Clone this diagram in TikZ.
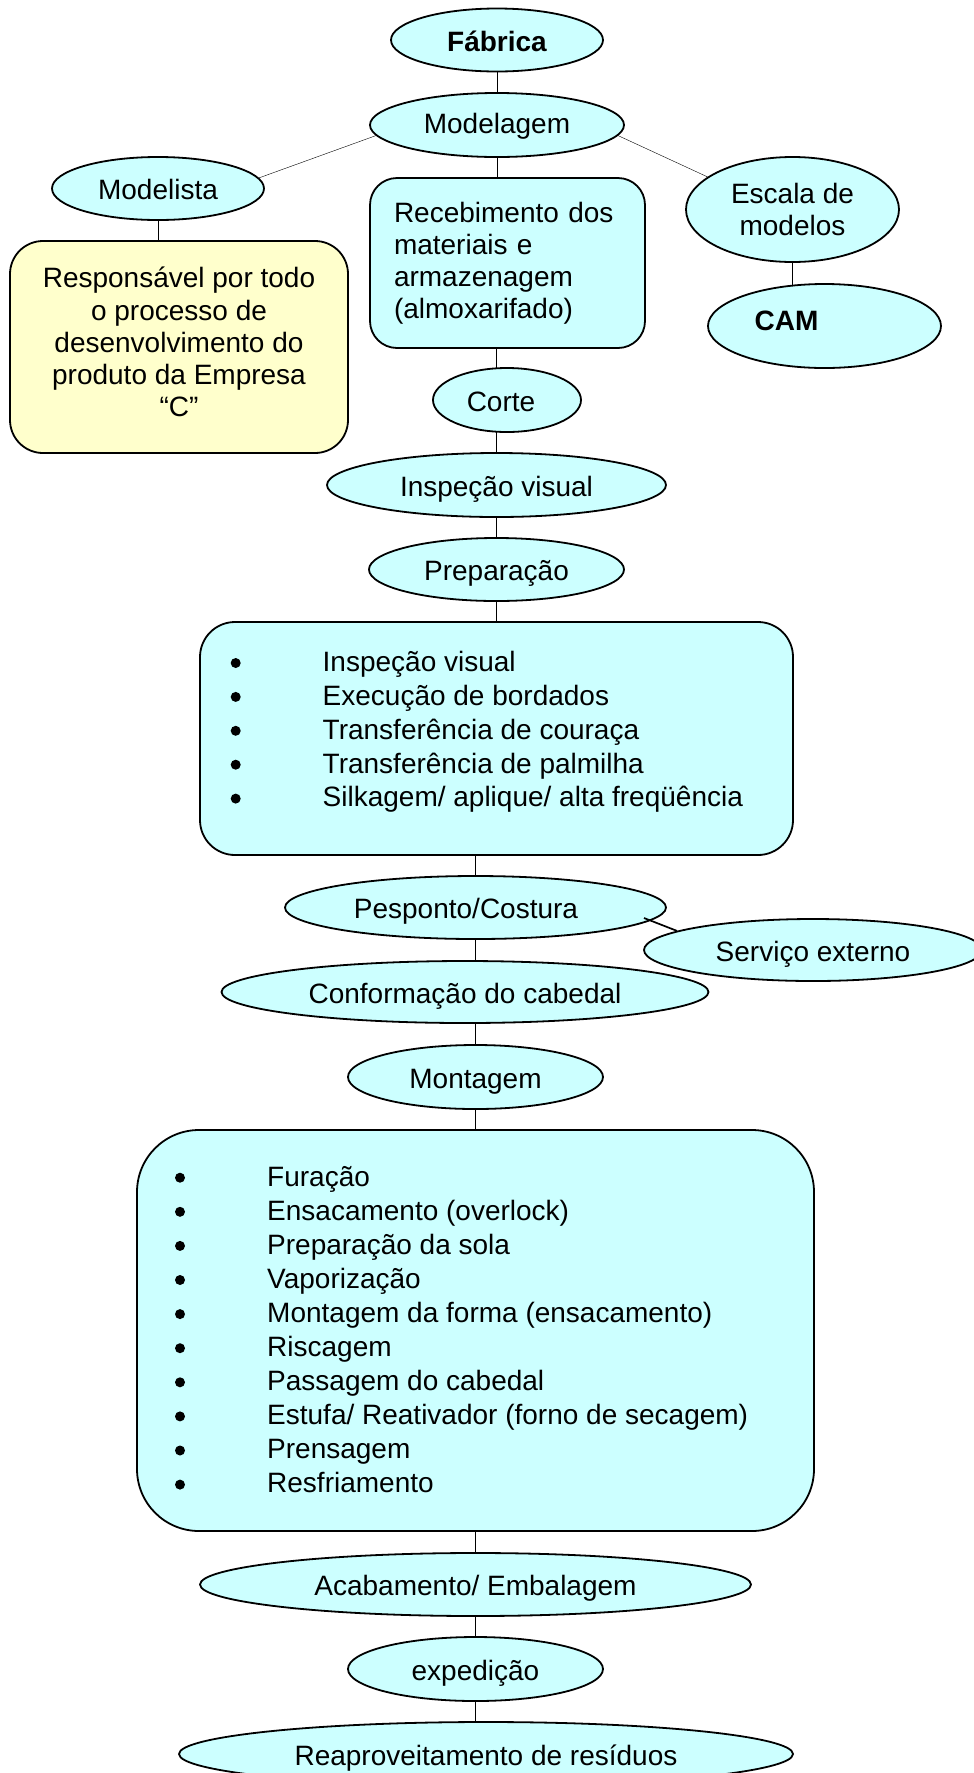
\documentclass[tikz,border=0pt]{standalone}
\usepackage{fontspec}
\setmainfont{Liberation Sans}
\usetikzlibrary{shapes.geometric,backgrounds}
\definecolor{fillcyan}{HTML}{CCFFFF}
\definecolor{fillyellow}{HTML}{FFFFCC}
\begin{document}
\begin{tikzpicture}[x=1pt,y=-1pt,
  every node/.style={font=\fontsize{28pt}{32.3pt}\selectfont},
  ovalbase/.style={ellipse, draw=black, line width=1.8pt, fill=fillcyan, inner sep=0pt},
  oval/.style={ovalbase, text height=22pt, text depth=0pt},
  card/.style={rectangle, draw=black, line width=1.8pt, fill=fillcyan, inner sep=0pt},
  item/.style={inner sep=0pt, anchor=base west},
  link/.style={line width=1.7pt, draw=black}]
\useasboundingbox (0,0) rectangle (974,1773);
\clip (0,0) rectangle (974,1773);

% top of the tree
\node[oval, minimum width=212pt, minimum height=63pt] (fab) at (497,40) {\bfseries Fábrica};
\node[oval, minimum width=254pt, minimum height=64pt, text height=16pt] (mod) at (497,125) {Modelagem};
\node[oval, minimum width=212pt, minimum height=63pt] (modl) at (158,188.5) {Modelista};
\node[ovalbase, align=center, minimum width=213pt, minimum height=105pt,
      font=\fontsize{28pt}{32pt}\selectfont] (esc) at (792.5,209.5) {Escala de\\modelos};
\node[oval, minimum width=233pt, minimum height=84pt, text height=8pt] (cam) at (824.5,326) {\bfseries CAM\hspace*{76pt}};
\node[card, fill=fillyellow, rounded corners=33pt, minimum width=338pt, minimum height=212pt, align=center]
  (resp) at (179,347) {Responsável por todo\\o processo de\\desenvolvimento do\\produto da Empresa\\“C”\rule[-10pt]{0pt}{10pt}};
\node[card, rounded corners=27pt, minimum width=275pt, minimum height=170pt, text width=227pt,
      inner xsep=24pt, align=left, font=\fontsize{28pt}{32pt}\selectfont]
  (recv) at (507.5,263) {Recebimento dos\\materiais e\\armazenagem\\(almoxarifado)};

% main sequence
\node[oval, minimum width=148pt, minimum height=64pt] (corte) at (507,400) {Corte\hspace*{12pt}};
\node[oval, minimum width=339pt, minimum height=64pt] (insp) at (496.5,485) {Inspeção visual};
\node[oval, minimum width=255pt, minimum height=63pt] (prep) at (496.5,569.5) {Preparação};
\node[card, rounded corners=35pt, minimum width=593pt, minimum height=233pt] (prepbox) at (496.5,738.5) {};
\foreach \txt [count=\i from 0] in {Inspeção visual, Execução de bordados, Transferência de couraça,
    Transferência de palmilha, Silkagem/ aplique/ alta freqüência}{
  \node[item] (pi\i) at (322.5,671.3+33.9*\i) {\txt};
  \fill (235.7,663+33.9*\i) circle (5pt);
}

\node[oval, minimum width=381pt, minimum height=63pt] (pesp) at (475.5,907.5) {Pesponto/Costura\hspace*{19pt}};
\node[oval, minimum width=338pt, minimum height=62pt] (serv) at (813,950) {Serviço externo};
\node[oval, minimum width=487pt, minimum height=62pt] (conf) at (465,992) {Conformação do cabedal};
\node[oval, minimum width=255pt, minimum height=64pt] (mont) at (475.5,1077) {Montagem};
\node[card, rounded corners=62pt, minimum width=677pt, minimum height=401pt] (montbox) at (475.5,1330.5) {};
\foreach \txt [count=\i from 0] in {Furação, {Ensacamento (overlock)}, Preparação da sola, Vaporização,
    {Montagem da forma (ensacamento)}, Riscagem, Passagem do cabedal,
    {Estufa/ Reativador (forno de secagem)}, Prensagem, Resfriamento}{
  \node[item] (mi\i) at (267,1186+34.1*\i) {\txt};
  \fill (180,1177.7+34.1*\i) circle (5pt);
}

\node[oval, minimum width=551pt, minimum height=63pt] (acab) at (475.5,1584.5) {Acabamento/ Embalagem};
\node[oval, minimum width=255pt, minimum height=64pt] (expe) at (475.5,1669) {expedição};
\node[oval, minimum width=614pt, minimum height=64pt] (reap) at (486,1754) {Reaproveitamento de resíduos};

% connectors, behind the filled shapes
\begin{scope}[on background layer, link]
  \draw (fab) -- (mod);
  \draw (mod.185) -- (modl.6);
  \draw (mod.-5) -- (esc.159);
  \draw (modl.south) -- (modl.south |- resp.north);
  \draw (esc.south) -- (esc.south |- cam.center);
  \draw (mod.south) -- (mod.south |- recv.north);
  \draw (insp.north |- recv.south) -- (insp.north);
  \draw (insp) -- (prep);
  \draw (prep) -- (prepbox);
  \draw (pesp.north |- prepbox.south) -- (pesp.north);
  \draw (pesp.south) -- (mont.north);
  \draw (mont) -- (montbox);
  \draw (montbox) -- (acab);
  \draw (acab) -- (expe);
  \draw (expe.south) -- (expe.south |- reap.center);
\end{scope}

% side branch to the outside service
\coordinate (sv) at (644,918);
\draw[link] (sv) -- (serv.172);
\end{tikzpicture}
\end{document}
